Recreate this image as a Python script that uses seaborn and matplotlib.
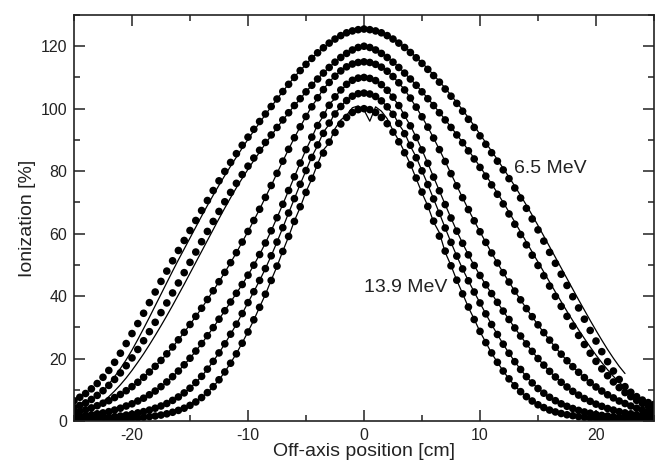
import numpy as np
import pandas as pd
import matplotlib
matplotlib.use("Agg")
import matplotlib.pyplot as plt
from matplotlib.ticker import MultipleLocator
import seaborn as sns

# Sample positions along the off-axis direction (cm)
dot_x = np.arange(-25.0, 25.01, 0.5)    # calculated profile points
line_x = np.arange(-22.5, 22.51, 0.5)   # measured profile samples

PROFILE_NAMES = ["p1", "p2", "p3", "p4", "p5", "p6"]

# Calculated ionization profiles (%), x = -25 ... 25 cm
DOTS_P1 = [6.5, 7.6, 8.8, 10.3, 12.0, 14.0, 16.2, 18.8, 21.7, 24.8,
           28.0, 31.2, 34.5, 37.9, 41.3, 44.7, 48.0, 51.3, 54.6, 57.8,
           61.0, 64.2, 67.4, 70.6, 73.8, 76.9, 79.9, 82.8, 85.6, 88.3,
           90.9, 93.4, 95.9, 98.3, 100.7, 103.1, 105.5, 107.8, 110.0, 112.2,
           114.2, 116.1, 117.9, 119.5, 121.0, 122.3, 123.4, 124.3, 124.9, 125.3,
           125.5,
           125.3, 124.9, 124.3, 123.4, 122.3, 121.0, 119.6, 118.0, 116.3, 114.5,
           112.6, 110.6, 108.5, 106.3, 104.0, 101.7, 99.2, 96.6, 94.0, 91.3,
           88.6, 85.9, 83.2, 80.4, 77.6, 74.6, 71.4, 68.1, 64.7, 61.2,
           57.6, 54.0, 50.5, 47.0, 43.4, 39.8, 36.2, 32.6, 29.0, 25.6,
           22.2, 19.0, 16.0, 13.3, 11.0, 9.2, 7.8, 6.7, 5.9, 5.3]
DOTS_P2 = [4.3, 5.0, 5.8, 6.9, 8.2, 9.7, 11.4, 13.3, 15.4, 17.7,
           20.2, 22.9, 25.7, 28.6, 31.6, 34.7, 37.8, 41.0, 44.2, 47.5,
           50.8, 54.1, 57.4, 60.7, 63.9, 67.1, 70.2, 73.2, 76.1, 78.9,
           81.6, 84.2, 86.7, 89.2, 91.6, 94.0, 96.4, 98.7, 101.0, 103.2,
           105.4, 107.5, 109.5, 111.4, 113.2, 114.9, 116.4, 117.7, 118.8, 119.6,
           120.0,
           119.6, 118.8, 117.7, 116.4, 114.9, 113.2, 111.4, 109.5, 107.5, 105.4,
           103.2, 101.0, 98.7, 96.4, 94.0, 91.6, 89.1, 86.5, 83.9, 81.2,
           78.4, 75.6, 72.6, 69.5, 66.3, 63.0, 59.7, 56.4, 53.1, 49.8,
           46.5, 43.2, 39.9, 36.7, 33.5, 30.4, 27.4, 24.5, 21.7, 19.1,
           16.7, 14.5, 12.5, 10.7, 9.1, 7.8, 6.6, 5.6, 4.8, 4.1]
DOTS_P3 = [2.6, 3.1, 3.6, 4.2, 4.9, 5.7, 6.5, 7.5, 8.5, 9.7,
           11.0, 12.4, 14.0, 15.7, 17.5, 19.4, 21.5, 23.7, 26.0, 28.4,
           30.9, 33.5, 36.1, 38.9, 41.7, 44.6, 47.6, 50.7, 53.9, 57.3,
           60.7, 64.2, 67.8, 71.6, 75.4, 79.3, 83.2, 87.0, 90.7, 94.2,
           97.5, 100.6, 103.5, 106.1, 108.4, 110.4, 112.1, 113.4, 114.3, 114.8,
           115.0,
           114.8, 114.2, 113.3, 112.0, 110.3, 108.3, 106.0, 103.4, 100.5, 97.4,
           94.1, 90.6, 86.9, 83.1, 79.2, 75.3, 71.5, 67.7, 64.1, 60.6,
           57.2, 53.8, 50.6, 47.5, 44.5, 41.6, 38.8, 36.0, 33.4, 30.8,
           28.3, 25.9, 23.6, 21.4, 19.3, 17.4, 15.6, 13.9, 12.3, 10.9,
           9.6, 8.4, 7.4, 6.4, 5.6, 4.8, 4.1, 3.5, 3.0, 2.5]
DOTS_P4 = [1.3, 1.5, 1.7, 2.0, 2.3, 2.6, 3.0, 3.5, 4.1, 4.8,
           5.5, 6.4, 7.3, 8.4, 9.6, 11.0, 12.5, 14.2, 16.0, 18.0,
           20.1, 22.4, 24.8, 27.3, 29.9, 32.6, 35.3, 38.1, 40.9, 43.7,
           46.7, 49.9, 53.3, 57.0, 60.9, 65.1, 69.4, 73.8, 78.2, 82.6,
           86.9, 90.9, 94.6, 98.0, 101.1, 103.8, 106.0, 107.8, 109.1, 109.8,
           110.0,
           109.7, 109.0, 107.7, 105.9, 103.7, 101.0, 97.9, 94.5, 90.8, 86.8,
           82.5, 78.1, 73.7, 69.3, 65.0, 60.8, 56.9, 53.2, 49.8, 46.6,
           43.6, 40.8, 38.0, 35.2, 32.5, 29.8, 27.2, 24.7, 22.3, 20.0,
           17.9, 15.9, 14.1, 12.4, 10.9, 9.5, 8.3, 7.2, 6.3, 5.4,
           4.7, 4.0, 3.5, 3.0, 2.6, 2.3, 2.0, 1.8, 1.6, 1.4]
DOTS_P5 = [0.7, 0.7, 0.8, 0.9, 1.0, 1.1, 1.2, 1.4, 1.6, 1.9,
           2.2, 2.6, 3.0, 3.5, 4.1, 4.8, 5.6, 6.6, 7.7, 9.0,
           10.5, 12.3, 14.3, 16.6, 19.1, 21.8, 24.7, 27.8, 31.0, 34.4,
           37.9, 41.4, 45.0, 48.8, 52.9, 57.3, 61.9, 66.6, 71.2, 75.8,
           80.2, 84.4, 88.4, 92.1, 95.4, 98.3, 100.7, 102.6, 104.0, 104.8,
           105.0,
           104.7, 103.9, 102.5, 100.6, 98.2, 95.3, 92.0, 88.3, 84.3, 80.1,
           75.7, 71.1, 66.5, 61.8, 57.2, 52.8, 48.7, 44.9, 41.3, 37.8,
           34.3, 30.9, 27.7, 24.6, 21.7, 19.0, 16.5, 14.2, 12.2, 10.4,
           8.9, 7.6, 6.5, 5.5, 4.7, 4.0, 3.4, 2.9, 2.5, 2.1,
           1.8, 1.6, 1.4, 1.2, 1.1, 1.0, 0.9, 0.8, 0.7, 0.7]
DOTS_P6 = [0.3, 0.4, 0.4, 0.4, 0.5, 0.5, 0.6, 0.6, 0.7, 0.8,
           0.9, 1.0, 1.2, 1.4, 1.6, 1.9, 2.3, 2.8, 3.4, 4.1,
           5.0, 6.1, 7.5, 9.1, 11.0, 13.2, 15.7, 18.5, 21.5, 24.9,
           28.5, 32.4, 36.4, 40.6, 45.0, 49.6, 54.3, 59.1, 63.9, 68.6,
           73.2, 77.7, 81.9, 85.8, 89.3, 92.4, 95.1, 97.2, 98.8, 99.7,
           100.0,
           99.7, 98.8, 97.2, 95.2, 92.5, 89.4, 85.9, 82.0, 77.8, 73.3,
           68.7, 64.0, 59.2, 54.4, 49.7, 45.1, 40.7, 36.5, 32.5, 28.7,
           25.1, 21.8, 18.8, 16.0, 13.5, 11.3, 9.4, 7.8, 6.4, 5.2,
           4.3, 3.5, 2.9, 2.4, 2.0, 1.7, 1.4, 1.2, 1.0, 0.9,
           0.8, 0.7, 0.6, 0.6, 0.5, 0.5, 0.4, 0.4, 0.4, 0.3]

# Measured ionization profiles (%), x = -22.5 ... 22.5 cm
LINE_P1 = [9.5, 11.8, 14.2, 16.8, 19.6,
           22.7, 26.1, 29.6, 33.2, 36.9, 40.6, 44.3, 48.0, 51.6, 55.1,
           58.6, 62.1, 65.6, 69.0, 72.3, 75.5, 78.6, 81.6, 84.5, 87.4,
           90.2, 92.9, 95.5, 98.1, 100.6, 103.1, 105.5, 107.9, 110.1, 112.3,
           114.1, 116.4, 117.7, 119.9, 120.6, 122.8, 123.0, 124.8, 124.5, 125.9,
           125.1,
           125.8, 124.6, 124.7, 123.2, 122.6, 121.2, 119.7, 118.3, 116.4, 114.8,
           112.7, 110.9, 108.7, 106.6, 104.3, 102.0, 99.6, 97.1, 94.5, 91.8,
           89.1, 86.4, 83.7, 80.9, 78.1, 75.2, 72.2, 69.1, 65.9, 62.6,
           59.2, 55.8, 52.4, 49.0, 45.6, 42.2, 38.8, 35.5, 32.2, 29.0,
           25.9, 22.9, 20.1, 17.5, 15.2]
LINE_P2 = [6.2, 7.8, 9.6, 11.6, 13.8,
           16.2, 18.8, 21.5, 24.4, 27.4, 30.5, 33.7, 37.0, 40.4, 43.8,
           47.3, 50.8, 54.3, 57.8, 61.3, 64.8, 68.2, 71.5, 74.7, 77.7,
           80.6, 83.4, 86.1, 88.8, 91.4, 93.9, 96.4, 98.6, 101.1, 103.0,
           105.6, 107.3, 109.8, 111.2, 113.5, 114.6, 116.7, 117.4, 119.1, 119.3,
           120.4,
           119.5, 119.0, 117.5, 116.6, 114.8, 113.4, 111.3, 109.6, 107.5, 105.5,
           103.3, 101.1, 98.8, 96.5, 94.1, 91.7, 89.2, 86.7, 84.1, 81.4,
           78.7, 75.9, 73.0, 70.0, 66.9, 63.7, 60.5, 57.3, 54.1, 50.9,
           47.7, 44.5, 41.3, 38.2, 35.1, 32.1, 29.2, 26.4, 23.7, 21.1,
           18.7, 16.4, 14.3, 12.4, 10.7]
LINE_P3 = [5.7, 6.5, 7.5, 8.5, 9.7,
           11.0, 12.4, 14.0, 15.7, 17.5, 19.4, 21.5, 23.7, 26.0, 28.4,
           30.9, 33.5, 36.1, 38.9, 41.7, 44.6, 47.6, 50.7, 53.9, 57.3,
           60.7, 64.2, 67.8, 71.6, 75.4, 79.3, 83.2, 87.0, 90.7, 94.2,
           97.5, 100.8, 103.3, 106.5, 108.2, 110.9, 111.8, 113.9, 114.0, 115.6,
           114.6,
           115.3, 114.0, 113.6, 111.8, 110.5, 108.1, 106.2, 103.3, 100.5, 97.4,
           94.1, 90.6, 86.9, 83.1, 79.2, 75.3, 71.5, 67.7, 64.1, 60.6,
           57.2, 53.8, 50.6, 47.5, 44.5, 41.6, 38.8, 36.0, 33.4, 30.8,
           28.3, 25.9, 23.6, 21.4, 19.3, 17.4, 15.6, 13.9, 12.3, 10.9,
           9.6, 8.4, 7.4, 6.4, 5.6]
LINE_P4 = [2.6, 3.0, 3.5, 4.1, 4.8,
           5.5, 6.4, 7.3, 8.4, 9.6, 11.0, 12.5, 14.2, 16.0, 18.0,
           20.1, 22.4, 24.8, 27.3, 29.9, 32.6, 35.3, 38.1, 40.9, 43.7,
           46.7, 49.9, 53.3, 57.0, 60.9, 65.1, 69.4, 73.8, 78.2, 82.6,
           86.9, 90.7, 94.9, 97.6, 101.5, 103.2, 106.4, 107.2, 109.6, 108.8,
           110.4,
           109.2, 109.5, 107.3, 106.2, 103.4, 101.2, 97.7, 94.6, 90.8, 86.8,
           82.5, 78.1, 73.7, 69.3, 65.0, 60.8, 56.9, 53.2, 49.8, 46.6,
           43.6, 40.8, 38.0, 35.2, 32.5, 29.8, 27.2, 24.7, 22.3, 20.0,
           17.9, 15.9, 14.1, 12.4, 10.9, 9.5, 8.3, 7.2, 6.3, 5.4,
           4.7, 4.0, 3.5, 3.0, 2.6]
LINE_P5 = [1.1, 1.2, 1.4, 1.6, 1.9,
           2.2, 2.6, 3.0, 3.5, 4.1, 4.8, 5.6, 6.6, 7.7, 9.0,
           10.5, 12.3, 14.3, 16.6, 19.1, 21.8, 24.7, 27.8, 31.0, 34.4,
           37.9, 41.4, 45.0, 48.8, 52.9, 57.3, 61.9, 66.6, 71.2, 75.8,
           80.2, 84.6, 88.2, 92.5, 95.0, 98.8, 100.3, 103.2, 103.6, 105.4,
           104.5,
           105.3, 103.4, 102.9, 100.2, 98.6, 95.0, 92.3, 88.0, 84.5, 80.1,
           75.7, 71.1, 66.5, 61.8, 57.2, 52.8, 48.7, 44.9, 41.3, 37.8,
           34.3, 30.9, 27.7, 24.6, 21.7, 19.0, 16.5, 14.2, 12.2, 10.4,
           8.9, 7.6, 6.5, 5.5, 4.7, 4.0, 3.4, 2.9, 2.5, 2.1,
           1.8, 1.6, 1.4, 1.2, 1.1]
LINE_P6 = [0.5, 0.6, 0.6, 0.7, 0.8,
           0.9, 1.0, 1.2, 1.4, 1.6, 1.9, 2.3, 2.8, 3.4, 4.1,
           5.0, 6.1, 7.5, 9.1, 11.0, 13.2, 15.7, 18.6, 21.6, 25.0,
           28.6, 32.3, 36.5, 40.5, 45.1, 49.5, 54.4, 59.0, 64.1, 68.4,
           73.4, 77.5, 82.3, 86.8, 89.0, 93.6, 96.4, 97.9, 100.3, 100.9,
           99.6,
           96.0, 100.6, 99.2, 96.8, 93.0, 89.8, 86.1, 82.2, 77.6, 73.0,
           68.9, 63.7, 60.3, 54.0, 49.8, 45.0, 40.8, 36.4, 32.6, 28.6,
           25.2, 21.7, 18.8, 16.0, 13.5, 11.3, 9.4, 7.8, 6.4, 5.2,
           4.3, 3.5, 2.9, 2.4, 2.0, 1.7, 1.4, 1.2, 1.0, 0.9,
           0.8, 0.7, 0.6, 0.6, 0.5]

DOT_SERIES = [DOTS_P1, DOTS_P2, DOTS_P3, DOTS_P4, DOTS_P5, DOTS_P6]
LINE_SERIES = [LINE_P1, LINE_P2, LINE_P3, LINE_P4, LINE_P5, LINE_P6]

# Energy labels placed next to the outermost and innermost profiles
ANNOTATIONS = [("6.5 MeV", 12.9, 80.8), ("13.9 MeV", 0.0, 42.9)]

dots = pd.concat(
    [pd.DataFrame({"x": dot_x, "ionization": v, "profile": n})
     for n, v in zip(PROFILE_NAMES, DOT_SERIES)], ignore_index=True)
lines = pd.concat(
    [pd.DataFrame({"x": line_x, "ionization": v, "profile": n})
     for n, v in zip(PROFILE_NAMES, LINE_SERIES)], ignore_index=True)

sns.set_style("ticks")
plt.rcParams["font.family"] = ["Liberation Sans", "DejaVu Sans"]
plt.rcParams["axes.unicode_minus"] = False

fig = plt.figure(figsize=(6.56, 4.62), dpi=100)
ax = fig.add_axes([74 / 656, 41 / 462, 580 / 656, 406 / 462])

black = ["black"] * len(PROFILE_NAMES)
sns.scatterplot(data=dots, x="x", y="ionization", hue="profile",
                palette=black, s=30, linewidth=0, legend=False, ax=ax,
                zorder=2)
sns.lineplot(data=lines, x="x", y="ionization", hue="profile",
             palette=black, estimator=None, sort=False, linewidth=0.9,
             legend=False, ax=ax, zorder=3)

for text, tx, ty in ANNOTATIONS:
    ax.text(tx, ty, text, ha="left", va="center", fontsize=14, color="#222222")

ax.set_xlim(-25, 25)
ax.set_ylim(0, 130)
ax.xaxis.set_major_locator(MultipleLocator(10))
ax.xaxis.set_minor_locator(MultipleLocator(5))
ax.yaxis.set_major_locator(MultipleLocator(20))
ax.yaxis.set_minor_locator(MultipleLocator(10))
ax.tick_params(which="both", direction="in", top=True, right=True,
               width=1.1, colors="#222222", labelsize=11.5)
ax.tick_params(which="major", length=8)
ax.tick_params(which="minor", length=4.5)
ax.tick_params(axis="x", which="major", pad=5)
ax.tick_params(axis="y", which="major", pad=5)
for sp in ax.spines.values():
    sp.set_visible(True)
    sp.set_linewidth(1.2)
    sp.set_color("#222222")

ax.set_xlabel("Off-axis position [cm]", fontsize=14, color="#222222", labelpad=0)
ax.set_ylabel("Ionization [%]", fontsize=14, color="#222222", labelpad=3)

fig.savefig("out.png", dpi=100)
